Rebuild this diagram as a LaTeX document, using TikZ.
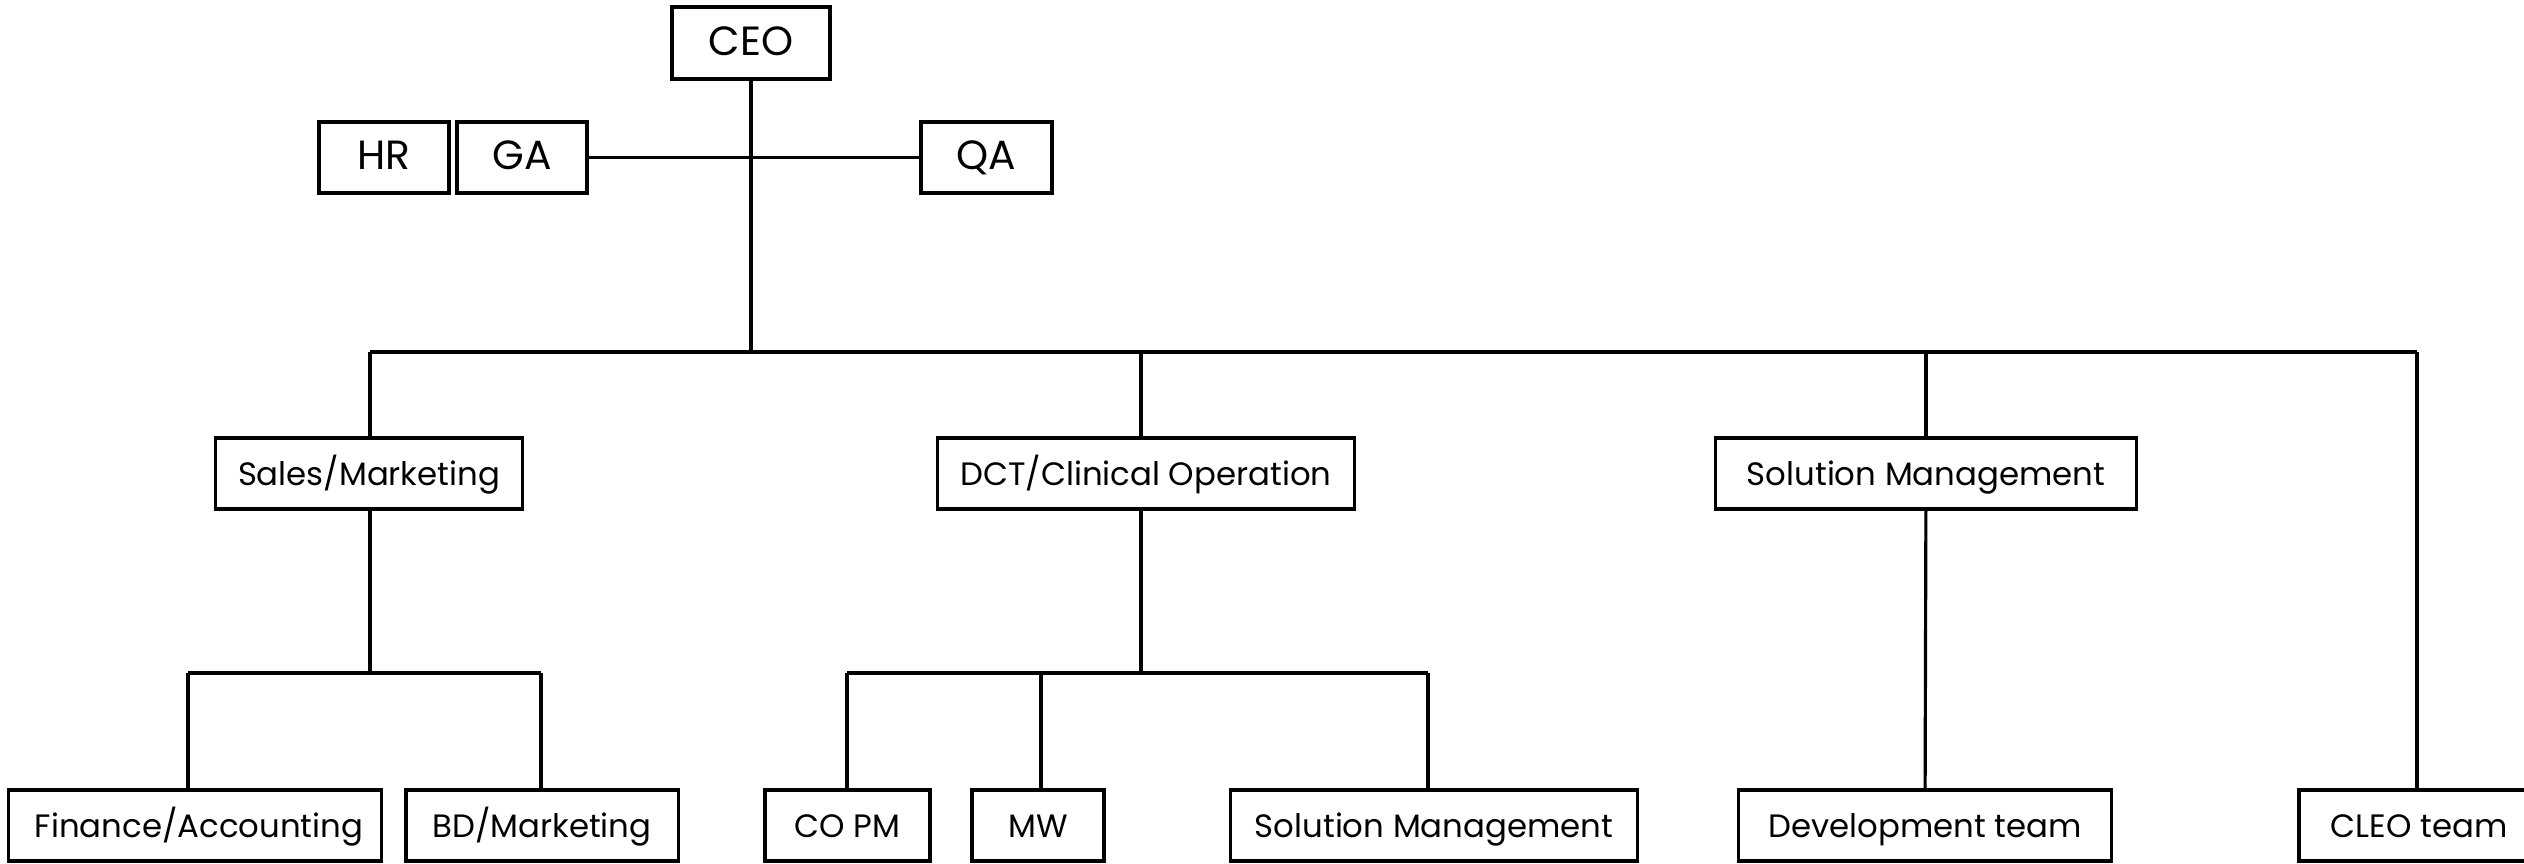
\documentclass[tikz,border=0pt]{standalone}
\usepackage{fontspec}
\setmainfont{Poppins}
\begin{document}
\begin{tikzpicture}[x=0.01cm,y=-0.01cm,
  unit/.style={draw=black, line width=0.9pt, fill=white, inner sep=0pt,
    text height=0.7em, text depth=0pt,
    minimum height=0.71cm, font=\fontsize{9.2}{11}\selectfont},
  topunit/.style={unit, font=\fontsize{11.6}{14}\selectfont},
  link/.style={draw=black, line width=0.9pt}]
\useasboundingbox (0,0) rectangle (2524,863);

% top management
\node[topunit, minimum width=1.58cm, minimum height=0.72cm] (ceo) at (751,43) {CEO};
\node[topunit, minimum width=1.30cm] (hr) at (384,157.5) {HR};
\node[topunit, minimum width=1.30cm] (ga) at (522,157.5) {GA};
\node[topunit, minimum width=1.31cm] (qa) at (986.5,157.5) {QA};

% divisions
\node[unit, minimum width=3.06cm] (sales) at (369,473.5) {Sales/Marketing};
\node[unit, minimum width=4.16cm] (dct) at (1146,473.5) {DCT/Clinical Operation};
\node[unit, minimum width=4.20cm] (solm) at (1926,473.5) {Solution Management};

% teams
\node[unit, minimum width=3.72cm] (fin) at (195,825.5) {\hspace{0.08cm}Finance/Accounting};
\node[unit, minimum width=2.72cm] (bd) at (542,825.5) {BD/Marketing};
\node[unit, minimum width=1.65cm] (copm) at (847.5,825.5) {CO PM};
\node[unit, minimum width=1.32cm] (mw) at (1038,825.5) {MW};
\node[unit, minimum width=4.06cm] (solt) at (1434,825.5) {Solution Management};
\node[unit, minimum width=3.73cm] (dev) at (1925,825.5) {Development team};
\node[unit, minimum width=2.40cm] (cleo) at (2419,825.5) {CLEO team};

% bus lines
\coordinate (busL) at (370,352);
\coordinate (busM) at (1141,352);
\coordinate (busR) at (2417,352);
\coordinate (salesL) at (188,673);
\coordinate (salesR) at (541,673);
\coordinate (dctL) at (847,673);
\coordinate (dctM) at (1041,673);
\coordinate (dctR) at (1428,673);

% CEO staff line and main trunk
\draw[link] (ga.east) -- (qa.west);
\draw[link] (ceo) -- (ceo |- busL);
\draw[link] (busL) -- (busR);
\draw[link] (sales.north -| busL) -- (busL);
\draw[link] (dct.north -| busM) -- (busM);
\draw[link] (solm) -- (solm |- busL);
\draw[link] (cleo.north -| busR) -- (busR);

% sales branch
\draw[link] (sales.south -| busL) -- (salesL -| busL);
\draw[link] (salesL) -- (salesR);
\draw[link] (fin.north -| salesL) -- (salesL);
\draw[link] (bd.north -| salesR) -- (salesR);

% clinical operation branch
\draw[link] (dct.south -| busM) -- (dctL -| busM);
\draw[link] (dctL) -- (dctR);
\draw[link] (copm.north -| dctL) -- (dctL);
\draw[link] (mw.north -| dctM) -- (dctM);
\draw[link] (solt.north -| dctR) -- (dctR);

% solution management branch
\draw[link] (solm) -- (dev);
\end{tikzpicture}
\end{document}
